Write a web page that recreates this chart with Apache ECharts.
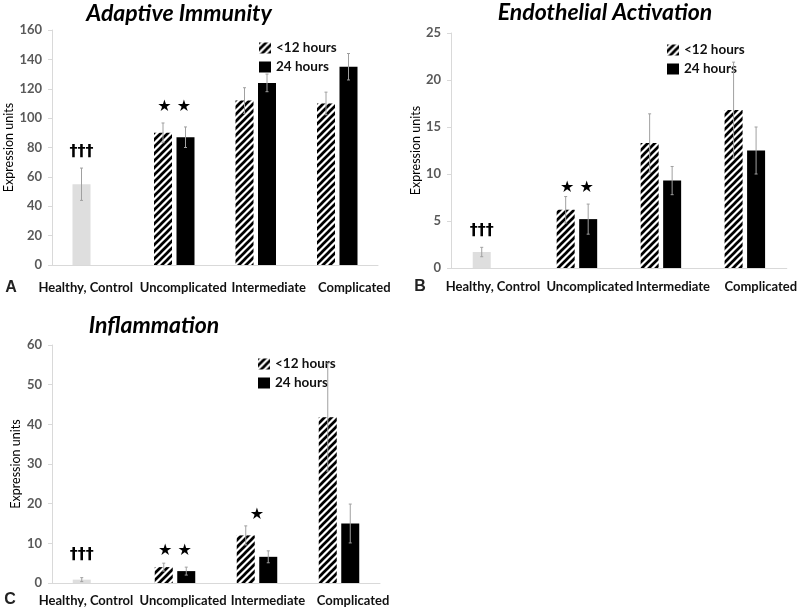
<!DOCTYPE html>
<html>
<head>
<meta charset="utf-8">
<script src="https://cdn.jsdelivr.net/npm/echarts@6/dist/echarts.min.js"></script>
<style>html,body{margin:0;padding:0;background:#fff}#c{width:800px;height:609px}</style>
</head>
<body>
<div id="c"></div>
<script>
// ---------- data ----------
const categories = ['Healthy, Control', 'Uncomplicated', 'Intermediate', 'Complicated'];
const seriesNames = ['<12 hours', '24 hours'];

// A: Adaptive Immunity
const aEarly = [55, 90, 112, 110];
const aLate = [null, 87, 124, 135];
const aEarlyErr = [11, 6.7, 8.7, 7.7];
const aLateErr = [null, 7, 6, 9];
const aTicks = { max: 160, interval: 20 };
const aMarks = [[0, 77, '†††', -1], [1, 108, '★ ★', 0]];

// B: Endothelial Activation
const bEarly = [1.7, 6.2, 13.3, 16.8];
const bLate = [null, 5.2, 9.3, 12.5];
const bEarlyErr = [0.5, 1.4, 3.1, 5.1];
const bLateErr = [null, 1.6, 1.5, 2.5];
const bTicks = { max: 25, interval: 5 };
const bMarks = [[0, 4.0, '†††', -1], [1, 8.5, '★ ★', 0]];

// C: Inflammation
const cEarly = [0.85, 4.0, 12.0, 41.8];
const cLate = [null, 3.0, 6.6, 15.0];
const cEarlyErr = [0.5, 1.0, 2.4, 13.6];
const cLateErr = [null, 1.0, 1.5, 4.9];
const cTicks = { max: 60, interval: 10 };
const cMarks = [[0, 7.0, '†††', -1], [1, 8.2, '★ ★', 0], [2, 17.3, '★', 0]];

// ---------- styles / layout ----------
const BAR_W = 18, BAR_GAP = 4.5;
const SLOT = (BAR_W + BAR_GAP) / 2;
const FONT = 'Lato';
const panels = [
  { title: 'Adaptive Immunity', letter: 'A', early: aEarly, late: aLate, eErr: aEarlyErr, lErr: aLateErr, ticks: aTicks, marks: aMarks,
    grid: { left: 52, top: 30, width: 326, height: 235 }, titlePos: [179, 14], letterPos: [11, 288], legendPos: [254, 36],
    labelMargin: 16, labelShift: [-7, 9, 13, 17], nameGap: 30 },
  { title: 'Endothelial Activation', letter: 'B', early: bEarly, late: bLate, eErr: bEarlyErr, lErr: bLateErr, ticks: bTicks, marks: bMarks,
    grid: { left: 451, top: 33, width: 337, height: 235 }, titlePos: [605, 13], letterPos: [420, 287], legendPos: [662, 38],
    labelMargin: 12, labelShift: [0, 13, 12, 16], nameGap: 21 },
  { title: 'Inflammation', letter: 'C', early: cEarly, late: cLate, eErr: cEarlyErr, lErr: cLateErr, ticks: cTicks, marks: cMarks,
    grid: { left: 52, top: 345, width: 328, height: 238 }, titlePos: [154, 326], letterPos: [10, 600], legendPos: [253, 352],
    labelMargin: 11, labelShift: [-7, 8, 11, 14], nameGap: 30 }
];

function makeHatch() {
  const s = 7;
  const c = document.createElement('canvas');
  c.width = s; c.height = s;
  const g = c.getContext('2d');
  g.fillStyle = '#ffffff'; g.fillRect(0, 0, s, s);
  g.strokeStyle = '#000000'; g.lineWidth = 2.7;
  g.beginPath();
  g.moveTo(-2, s + 2); g.lineTo(s + 2, -2);
  g.moveTo(-2, 2); g.lineTo(2, -2);
  g.moveTo(s - 2, s + 2); g.lineTo(s + 2, s - 2);
  g.stroke();
  return c;
}
const hatch = { image: makeHatch(), repeat: 'repeat' };

function richFor(shifts) {
  const rich = {};
  shifts.forEach((d, i) => {
    rich['s' + i] = { color: '#111', fontSize: 13, fontWeight: 'bold', fontFamily: FONT,
      padding: d >= 0 ? [0, 0, 0, 2 * d] : [0, -2 * d, 0, 0] };
  });
  return rich;
}

const grids = [], xAxes = [], yAxes = [], series = [], legends = [], graphics = [];
panels.forEach((p, k) => {
  grids.push(Object.assign({ containLabel: false }, p.grid));
  xAxes.push({
    type: 'category', gridIndex: k, data: categories,
    axisLine: { show: true, lineStyle: { color: '#d9d9d9', width: 1 } },
    axisTick: { show: false },
    axisLabel: { margin: p.labelMargin, interval: 0,
      formatter: (v, i) => '{s' + i + '|' + v + '}', rich: richFor(p.labelShift) }
  });
  yAxes.push({
    type: 'value', gridIndex: k, min: 0, max: p.ticks.max, interval: p.ticks.interval,
    axisLine: { show: true, lineStyle: { color: '#d9d9d9' } },
    axisTick: { show: true, length: 4, lineStyle: { color: '#d9d9d9' } },
    splitLine: { show: false },
    axisLabel: { color: '#595959', fontSize: 13, fontWeight: 'bold', fontFamily: FONT, margin: 10 },
    name: 'Expression units', nameLocation: 'middle', nameGap: p.nameGap,
    nameTextStyle: { color: '#000', fontSize: 12.5, fontFamily: FONT }
  });
  series.push({
    type: 'bar', name: seriesNames[0], xAxisIndex: k, yAxisIndex: k,
    barWidth: BAR_W, barGap: (BAR_GAP / BAR_W * 100) + '%',
    itemStyle: { color: hatch },
    data: p.early.map((v, i) => i === 0 ? { value: v, itemStyle: { color: '#dedede' } } : v)
  });
  series.push({
    type: 'bar', name: seriesNames[1], xAxisIndex: k, yAxisIndex: k,
    barWidth: BAR_W, barGap: (BAR_GAP / BAR_W * 100) + '%',
    itemStyle: { color: '#000' },
    data: p.late.map(v => v == null ? '-' : v)
  });
  const errData = [];
  p.early.forEach((v, i) => { if (v != null) errData.push([i, v, p.eErr[i], -1]); });
  p.late.forEach((v, i) => { if (v != null) errData.push([i, v, p.lErr[i], 1]); });
  series.push({
    type: 'custom', xAxisIndex: k, yAxisIndex: k, z: 5, silent: true, data: errData,
    renderItem: (params, api) => {
      const c = api.value(0), v = api.value(1), e = api.value(2), s = api.value(3);
      const t = api.coord([c, v + e]), b = api.coord([c, v - e]);
      const x = t[0] + s * SLOT;
      const st = { stroke: '#a0a0a0', lineWidth: 1 };
      return { type: 'group', children: [
        { type: 'line', shape: { x1: x, y1: t[1], x2: x, y2: b[1] }, style: st },
        { type: 'line', shape: { x1: x - 1.5, y1: t[1], x2: x + 1.5, y2: t[1] }, style: st },
        { type: 'line', shape: { x1: x - 1.5, y1: b[1], x2: x + 1.5, y2: b[1] }, style: st }
      ] };
    }
  });
  series.push({
    type: 'custom', xAxisIndex: k, yAxisIndex: k, z: 6, silent: true,
    data: p.marks.map(m => [m[0], m[1]]),
    renderItem: (params, api) => {
      const m = p.marks[params.dataIndex];
      const pt = api.coord([m[0], m[1]]);
      const isStar = m[2].indexOf('★') >= 0;
      return { type: 'text', x: pt[0] + m[3] * SLOT, y: pt[1],
        style: { text: m[2], fill: '#000', align: 'center', verticalAlign: 'middle',
          font: isStar ? '16px "DejaVu Sans"' : 'bold 16px "DejaVu Sans"' } };
    }
  });
  legends.push({
    data: seriesNames, left: p.legendPos[0], top: p.legendPos[1], orient: 'vertical',
    icon: 'rect', itemWidth: 12, itemHeight: 11, itemGap: 5, selectedMode: false,
    textStyle: { fontSize: 13.5, fontWeight: 'bold', fontFamily: FONT, color: '#111' }
  });
  graphics.push({ type: 'text', x: p.titlePos[0], y: p.titlePos[1],
    style: { text: p.title, font: 'italic bold 23px Lato', fill: '#000', align: 'center', verticalAlign: 'middle' } });
  graphics.push({ type: 'text', x: p.letterPos[0], y: p.letterPos[1],
    style: { text: p.letter, font: 'bold 16px "Liberation Sans"', fill: '#222', align: 'center', verticalAlign: 'middle' } });
});

const chart = echarts.init(document.getElementById('c'), null, { renderer: 'canvas' });
chart.setOption({
  animation: false,
  backgroundColor: '#fff',
  grid: grids, xAxis: xAxes, yAxis: yAxes, series: series, legend: legends, graphic: graphics
});
</script>
</body>
</html>
